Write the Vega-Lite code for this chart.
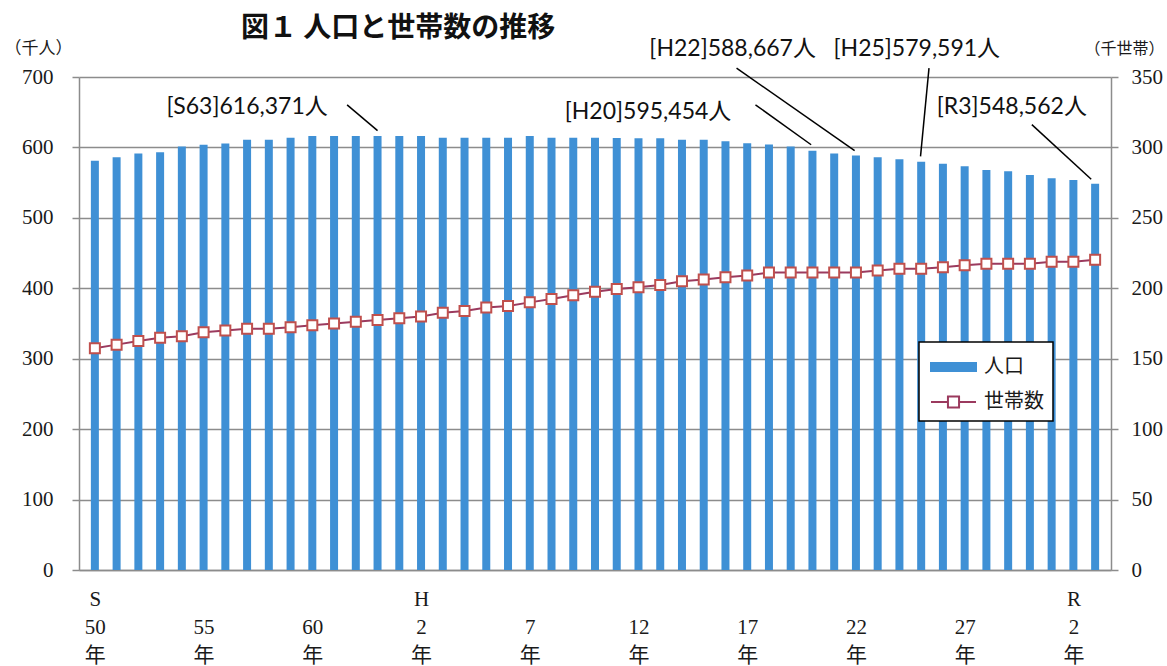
{
  "$schema": "https://vega.github.io/schema/vega-lite/v6.json",
  "width": 1032,
  "height": 493,
  "autosize": "none",
  "padding": {"left": 79, "top": 77, "right": 56, "bottom": 96},
  "background": "white",
  "title": {
    "text": "図１ 人口と世帯数の推移",
    "anchor": "start",
    "frame": "group",
    "dx": 162,
    "offset": -5,
    "font": "Noto Sans CJK JP",
    "fontSize": 28,
    "fontWeight": "bold",
    "color": "#111111"
  },
  "config": {
    "view": {"stroke": null},
    "axis": {
      "domainColor": "#8c8c8c",
      "domainWidth": 1.5,
      "tickColor": "#8c8c8c",
      "tickWidth": 1.5,
      "gridColor": "#8c8c8c",
      "gridWidth": 1.5,
      "labelFont": "Liberation Serif, Noto Sans CJK JP",
      "labelFontSize": 21,
      "labelColor": "#1a1a1a",
      "titleFont": "Noto Sans CJK JP",
      "titleFontSize": 17,
      "titleFontWeight": "normal",
      "titleColor": "#1a1a1a"
    }
  },
  "datasets": {
    "main": [
      {"year": 1975, "pop": 581.0, "hh": 157.4},
      {"year": 1976, "pop": 586.2, "hh": 160.0},
      {"year": 1977, "pop": 591.4, "hh": 162.6},
      {"year": 1978, "pop": 593.3, "hh": 164.8},
      {"year": 1979, "pop": 601.4, "hh": 166.0},
      {"year": 1980, "pop": 603.8, "hh": 168.8},
      {"year": 1981, "pop": 605.7, "hh": 170.0},
      {"year": 1982, "pop": 611.0, "hh": 171.2},
      {"year": 1983, "pop": 611.0, "hh": 171.2},
      {"year": 1984, "pop": 613.8, "hh": 172.4},
      {"year": 1985, "pop": 616.2, "hh": 173.8},
      {"year": 1986, "pop": 616.2, "hh": 175.0},
      {"year": 1987, "pop": 616.2, "hh": 176.2},
      {"year": 1988, "pop": 616.371, "hh": 177.4},
      {"year": 1989, "pop": 616.2, "hh": 178.8},
      {"year": 1990, "pop": 616.2, "hh": 180.0},
      {"year": 1991, "pop": 613.8, "hh": 182.6},
      {"year": 1992, "pop": 613.8, "hh": 183.8},
      {"year": 1993, "pop": 613.8, "hh": 186.4},
      {"year": 1994, "pop": 613.8, "hh": 187.4},
      {"year": 1995, "pop": 616.2, "hh": 190.0},
      {"year": 1996, "pop": 613.8, "hh": 192.4},
      {"year": 1997, "pop": 613.8, "hh": 195.0},
      {"year": 1998, "pop": 613.8, "hh": 197.6},
      {"year": 1999, "pop": 613.3, "hh": 199.5},
      {"year": 2000, "pop": 613.0, "hh": 200.7},
      {"year": 2001, "pop": 613.0, "hh": 202.4},
      {"year": 2002, "pop": 611.0, "hh": 205.0},
      {"year": 2003, "pop": 611.0, "hh": 206.2},
      {"year": 2004, "pop": 608.6, "hh": 207.9},
      {"year": 2005, "pop": 606.0, "hh": 209.0},
      {"year": 2006, "pop": 604.0, "hh": 211.2},
      {"year": 2007, "pop": 601.4, "hh": 211.2},
      {"year": 2008, "pop": 595.454, "hh": 211.2},
      {"year": 2009, "pop": 591.4, "hh": 211.2},
      {"year": 2010, "pop": 588.667, "hh": 211.2},
      {"year": 2011, "pop": 586.2, "hh": 212.6},
      {"year": 2012, "pop": 583.3, "hh": 213.8},
      {"year": 2013, "pop": 579.591, "hh": 213.8},
      {"year": 2014, "pop": 576.7, "hh": 215.0},
      {"year": 2015, "pop": 573.3, "hh": 216.4},
      {"year": 2016, "pop": 568.0, "hh": 217.4},
      {"year": 2017, "pop": 566.2, "hh": 217.4},
      {"year": 2018, "pop": 561.0, "hh": 217.4},
      {"year": 2019, "pop": 556.2, "hh": 218.8},
      {"year": 2020, "pop": 553.8, "hh": 218.8},
      {"year": 2021, "pop": 548.562, "hh": 220.2}
    ],
    "notes": [
      {"label": "[S63]616,371人", "tx": 1982.0, "ty": 656.8, "x1": 1986.6, "y1": 660.5, "x2": 1988.0, "y2": 623.9},
      {"label": "[H20]595,454人", "tx": 2000.44, "ty": 650.6, "x1": 2005.38, "y1": 660.5, "x2": 2007.94, "y2": 603.8},
      {"label": "[H22]588,667人", "tx": 2004.33, "ty": 739.3, "x1": 2004.51, "y1": 712.6, "x2": 2009.94, "y2": 595.3},
      {"label": "[H25]579,591人", "tx": 2012.8, "ty": 739.7, "x1": 2013.36, "y1": 712.6, "x2": 2012.97, "y2": 587.2},
      {"label": "[R3]548,562人", "tx": 2017.17, "ty": 657.8, "x1": 2018.09, "y1": 632.4, "x2": 2020.82, "y2": 554.9}
    ]
  },
  "layer": [
    {
      "layer": [
        {
          "data": {"name": "main"},
          "mark": {"type": "bar", "size": 8, "fill": "#3f90d5"},
          "encoding": {
            "x": {
              "field": "year",
              "type": "quantitative",
              "title": null,
              "scale": {"domain": [1974.5, 2021.5], "nice": false, "zero": false},
              "axis": {
                "values": [1975, 1980, 1985, 1990, 1995, 2000, 2005, 2010, 2015, 2020],
                "ticks": false,
                "grid": false,
                "labelPadding": 18,
                "labelBaseline": "top",
                "labelLineHeight": 28,
                "labelFlush": false,
                "labelOverlap": false,
                "labelExpr": "datum.value == 1975 ? ['S', '50', '年'] : datum.value == 1990 ? ['H', '2', '年'] : datum.value == 2020 ? ['R', '2', '年'] : [' ', datum.value < 1989 ? '' + (datum.value - 1925) : '' + (datum.value - 1988), '年']"
              }
            },
            "y": {
              "field": "pop",
              "type": "quantitative",
              "title": "（千人）",
              "scale": {"domain": [0, 700], "nice": false},
              "axis": {
                "orient": "left",
                "values": [0, 100, 200, 300, 400, 500, 600, 700],
                "grid": true,
                "tickSize": 7,
                "labelPadding": 19,
                "titleAngle": 0,
                "titleAlign": "left",
                "titleBaseline": "middle",
                "titleX": -75,
                "titleY": -29
              }
            },
            "color": {
              "datum": "人口",
              "scale": {"domain": ["人口", "世帯数"], "range": ["#3f90d5", "#9b3a5e"]},
              "legend": null
            }
          }
        },
        {
          "data": {"name": "notes"},
          "mark": {"type": "rule", "color": "black", "strokeWidth": 1.5},
          "encoding": {
            "x": {"field": "x1", "type": "quantitative", "title": null},
            "x2": {"field": "x2"},
            "y": {"field": "y1", "type": "quantitative", "title": "（千人）"},
            "y2": {"field": "y2"}
          }
        },
        {
          "data": {"name": "notes"},
          "mark": {"type": "text", "align": "center", "baseline": "middle", "font": "Lato, Noto Sans CJK JP", "fontSize": 23, "color": "#111111"},
          "encoding": {
            "x": {"field": "tx", "type": "quantitative", "title": null},
            "y": {"field": "ty", "type": "quantitative", "title": "（千人）"},
            "text": {"field": "label"}
          }
        }
      ]
    },
    {
      "layer": [
        {
          "data": {"name": "main"},
          "mark": {"type": "line", "strokeWidth": 2},
          "encoding": {
            "x": {"field": "year", "type": "quantitative", "title": null},
            "y": {
              "field": "hh",
              "type": "quantitative",
              "title": "（千世帯）",
              "scale": {"domain": [0, 350], "nice": false},
              "axis": {
                "orient": "right",
                "values": [0, 50, 100, 150, 200, 250, 300, 350],
                "grid": false,
                "tickSize": 7,
                "labelPadding": 13,
                "titleAngle": 0,
                "titleAlign": "left",
                "titleBaseline": "middle",
                "titleFontSize": 16,
                "titleX": -27,
                "titleY": -29
              }
            },
            "color": {
              "datum": "世帯数",
              "legend": {
                "orient": "none",
                "legendX": 840,
                "legendY": 265,
                "title": null,
                "direction": "vertical",
                "padding": 9,
                "strokeColor": "black",
                "fillColor": "white",
                "symbolSize": 900,
                "symbolOffset": 9.5,
                "symbolStrokeWidth": 2,
                "labelOffset": 14.5,
                "rowPadding": 9,
                "labelFont": "Noto Sans CJK JP",
                "labelFontSize": 20,
                "labelColor": "#1a1a1a",
                "labelExpr": "datum.label + '\u3000'",
                "encode": {
                  "legend": {"update": {"strokeWidth": {"value": 1.5}}},
                  "symbols": {
                    "update": {
                      "shape": {"signal": "datum.value === '人口' ? 'M-1.5,-0.27H1.5V0.27H-1.5Z' : 'M-1.5,0H-0.37M0.37,0H1.5M-0.37,-0.37H0.37V0.37H-0.37Z'"},
                      "fill": {"signal": "datum.value === '人口' ? '#3f90d5' : '#ffffff'"},
                      "stroke": {"signal": "datum.value === '人口' ? '#3f90d5' : '#b0424f'"},
                      "opacity": {"value": 1},
                      "fillOpacity": {"value": 1}
                    }
                  }
                }
              }
            }
          }
        },
        {
          "data": {"name": "main"},
          "mark": {"type": "point", "shape": "square", "filled": true, "fill": "white", "stroke": "#c0504d", "strokeWidth": 2, "size": 100, "opacity": 1},
          "encoding": {
            "x": {"field": "year", "type": "quantitative", "title": null},
            "y": {"field": "hh", "type": "quantitative", "title": "（千世帯）"}
          }
        }
      ]
    }
  ],
  "resolve": {"scale": {"y": "independent"}, "legend": {"color": "independent"}}
}
